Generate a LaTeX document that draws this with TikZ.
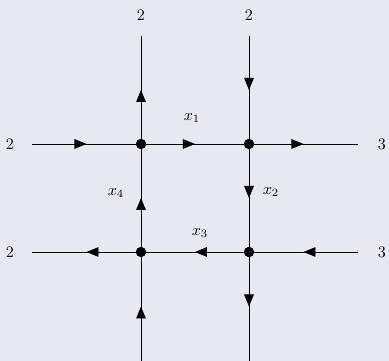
\documentclass[tikz,border=0pt]{standalone}
\usetikzlibrary{arrows.meta,decorations.markings}
\definecolor{bgcol}{RGB}{232,232,242}
\tikzset{
  edge/.style={line width=0.6pt,black,postaction={decorate},
    decoration={markings,mark=at position 0.5 with {\arrow{Triangle[length=7.5pt,width=6pt]}}}},
  plain/.style={line width=0.6pt,black},
  dot/.style={circle,fill=black,inner sep=0pt,minimum size=6.3pt},
  lab/.style={inner sep=0pt}
}
\begin{document}
\begin{tikzpicture}[x=0.625pt,y=-0.625pt]
\fill[bgcol] (0,0) rectangle (389,361);
\useasboundingbox (0,0) rectangle (389,361);
% junctions
\node[dot] (a) at (141,144) {};
\node[dot] (b) at (249,144) {};
\node[dot] (c) at (141,252) {};
\node[dot] (d) at (249,252) {};
% free ends
\coordinate (lt) at (32,144);
\coordinate (rt) at (358,144);
\coordinate (lb) at (32,252);
\coordinate (rb) at (358,252);
\coordinate (ta) at (141,36);
\coordinate (tb) at (249,36);
\coordinate (ba) at (141,361);
\coordinate (bb) at (249,361);
% edges
\draw[edge] (lt) -- (a.center);
\draw[edge] (a.center) -- (b.center);
\draw[edge] (b.center) -- (rt);
\draw[edge] (rb) -- (d.center);
\draw[edge] (d.center) -- (c.center);
\draw[edge] (c.center) -- (lb);
\draw[edge] (a.center) -- (ta);
\draw[edge] (tb) -- (b.center);
\draw[edge] (b.center) -- (d.center);
\draw[edge] (c.center) -- (a.center);
\draw[edge] (ba) -- (c.center);
\draw[edge] (d.center) -- (bb);
% redraw dots on top
\node[dot] at (a) {};
\node[dot] at (b) {};
\node[dot] at (c) {};
\node[dot] at (d) {};
% labels
\node[lab] (l1) at (10,144) {2};
\node[lab] (l2) at (10,252) {2};
\node[lab] (r1) at (382,144) {3};
\node[lab] (r2) at (382,252) {3};
\node[lab] (t1) at (141,15) {2};
\node[lab] (t2) at (249,15) {2};
\node (x1) at (192,118) {$x_1$};
\node (x2) at (271,192) {$x_2$};
\node (x3) at (200,233) {$x_3$};
\node (x4) at (116,193) {$x_4$};
\end{tikzpicture}
\end{document}
